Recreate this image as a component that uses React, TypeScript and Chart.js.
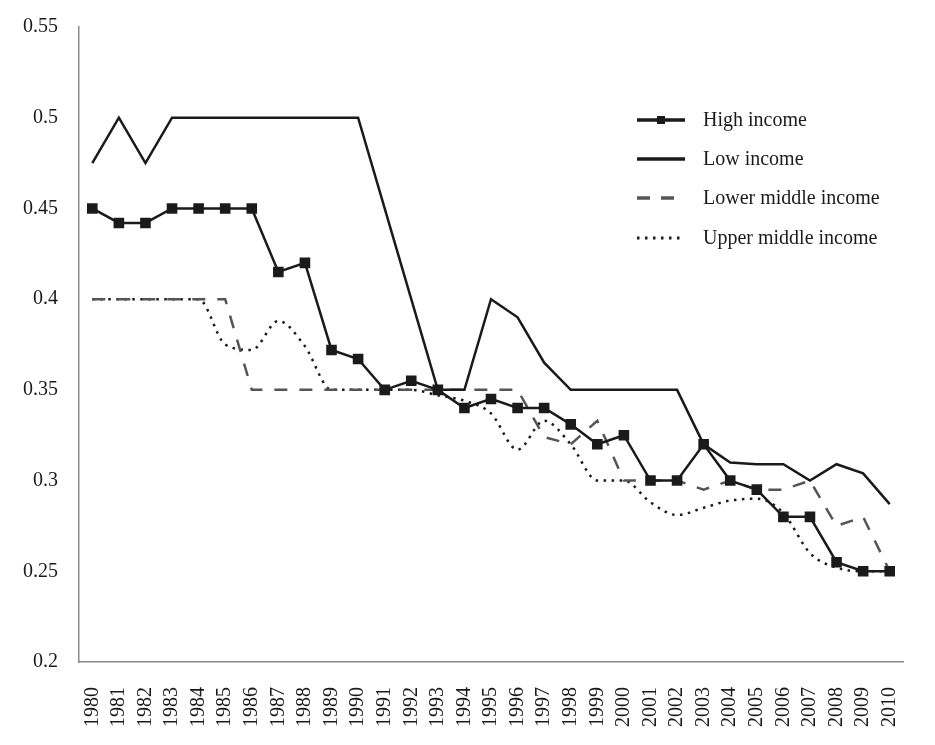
import { useEffect, useRef } from "react";
import { Chart, registerables } from "chart.js";

Chart.register(...registerables);

const years = Array.from({ length: 31 }, (_, i) => String(1980 + i));

const highIncome = [
  0.45, 0.442, 0.442, 0.45, 0.45, 0.45, 0.45, 0.415, 0.42, 0.372, 0.367,
  0.35, 0.355, 0.35, 0.34, 0.345, 0.34, 0.34, 0.331, 0.32, 0.325,
  0.3, 0.3, 0.32, 0.3, 0.295, 0.28, 0.28, 0.255, 0.25, 0.25,
];
const lowIncome = [
  0.475, 0.5, 0.475, 0.5, 0.5, 0.5, 0.5, 0.5, 0.5, 0.5, 0.5,
  0.45, 0.4, 0.35, 0.35, 0.4, 0.39, 0.365, 0.35, 0.35, 0.35,
  0.35, 0.35, 0.32, 0.31, 0.309, 0.309, 0.3, 0.309, 0.304, 0.287,
];
const lowerMiddle = [
  0.4, 0.4, 0.4, 0.4, 0.4, 0.4, 0.35, 0.35, 0.35, 0.35, 0.35,
  0.35, 0.35, 0.35, 0.35, 0.35, 0.35, 0.324, 0.32, 0.333, 0.3,
  0.3, 0.3, 0.295, 0.3, 0.295, 0.295, 0.3, 0.275, 0.28, 0.25,
];
const upperMiddle = [
  0.4, 0.4, 0.4, 0.4, 0.4, 0.375, 0.372, 0.388, 0.374, 0.35, 0.35,
  0.35, 0.35, 0.347, 0.344, 0.337, 0.317, 0.333, 0.32, 0.3, 0.3,
  0.288, 0.281, 0.285, 0.289, 0.29, 0.282, 0.26, 0.252, 0.25, 0.25,
];

const FONT = "'Liberation Serif', 'Times New Roman', serif";

// legend sits inside the plot, top right, like the original
const legendPlugin = {
  id: "insideLegend",
  afterDraw(chart: any) {
    const ctx = chart.ctx;
    const x0 = 637, x1 = 685, tx = 703;
    const ys = [120, 159, 198, 238];
    ctx.save();
    chart.data.datasets.forEach((ds: any, i: number) => {
      const y = ys[i];
      ctx.beginPath();
      ctx.strokeStyle = ds.borderColor;
      ctx.lineWidth = i === 3 ? 3 : 3.5;
      ctx.setLineDash(i === 2 ? [13, 11] : i === 3 ? [2.5, 5.5] : []);
      ctx.moveTo(x0, y);
      ctx.lineTo(x1, y);
      ctx.stroke();
      ctx.setLineDash([]);
      if (i === 0) {
        ctx.fillStyle = ds.borderColor;
        ctx.fillRect((x0 + x1) / 2 - 4, y - 4, 8, 8);
      }
      ctx.fillStyle = "#1a1a1a";
      ctx.font = `20px ${FONT}`;
      ctx.textAlign = "left";
      ctx.textBaseline = "middle";
      ctx.fillText(ds.label, tx, y + 1);
    });
    ctx.restore();
  },
};

export default function App() {
  const ref = useRef<HTMLCanvasElement | null>(null);
  useEffect(() => {
    if (!ref.current) return;
    const ch = new Chart(ref.current, {
      type: "line",
      data: {
        labels: years,
        datasets: [
          {
            label: "High income",
            data: highIncome,
            borderColor: "#1a1a1a",
            backgroundColor: "#1a1a1a",
            borderWidth: 2.5,
            pointStyle: "rect",
            pointRadius: 7.5,
            pointBorderWidth: 0,
          },
          {
            label: "Low income",
            data: lowIncome,
            borderColor: "#1a1a1a",
            borderWidth: 2.5,
            pointRadius: 0,
          },
          {
            label: "Lower middle income",
            data: lowerMiddle,
            borderColor: "#555",
            borderWidth: 2.5,
            borderDash: [13, 12],
            pointRadius: 0,
          },
          {
            label: "Upper middle income",
            data: upperMiddle,
            borderColor: "#1a1a1a",
            borderWidth: 2.5,
            borderDash: [2.5, 5.5],
            cubicInterpolationMode: "monotone",
            pointRadius: 0,
          },
        ],
      },
      options: {
        responsive: false,
        animation: false,
        devicePixelRatio: 1,
        layout: { padding: { left: 0, right: 32, top: 27, bottom: 0 } },
        plugins: { legend: { display: false }, tooltip: { enabled: false } },
        scales: {
          x: {
            offset: true,
            grid: { display: false, drawTicks: false },
            border: { display: true, color: "#8a8a8a", width: 1.5 },
            ticks: {
              minRotation: 90,
              maxRotation: 90,
              autoSkip: false,
              padding: 25,
              color: "#1a1a1a",
              font: { family: FONT, size: 20 },
            },
            afterFit: (s: any) => {
              s.height = 83;
              s.paddingLeft = 0;
              s.paddingRight = 0;
            },
          },
          y: {
            min: 0.2,
            max: 0.55,
            grid: { display: false, drawTicks: false },
            border: { display: true, color: "#8a8a8a", width: 1.5 },
            ticks: {
              stepSize: 0.05,
              padding: 21,
              color: "#1a1a1a",
              font: { family: FONT, size: 20 },
              callback: (v: any) => String(parseFloat(Number(v).toFixed(2))),
            },
            afterFit: (s: any) => {
              s.width = 79;
              s.paddingTop = 0;
              s.paddingBottom = 0;
            },
          },
        },
      },
      plugins: [legendPlugin],
    });
    return () => ch.destroy();
  }, []);
  return (
    <div style={{ position: "absolute", left: 0, top: 0, width: 935, height: 745, background: "#fff" }}>
      <canvas ref={ref} width={935} height={745}></canvas>
    </div>
  );
}
